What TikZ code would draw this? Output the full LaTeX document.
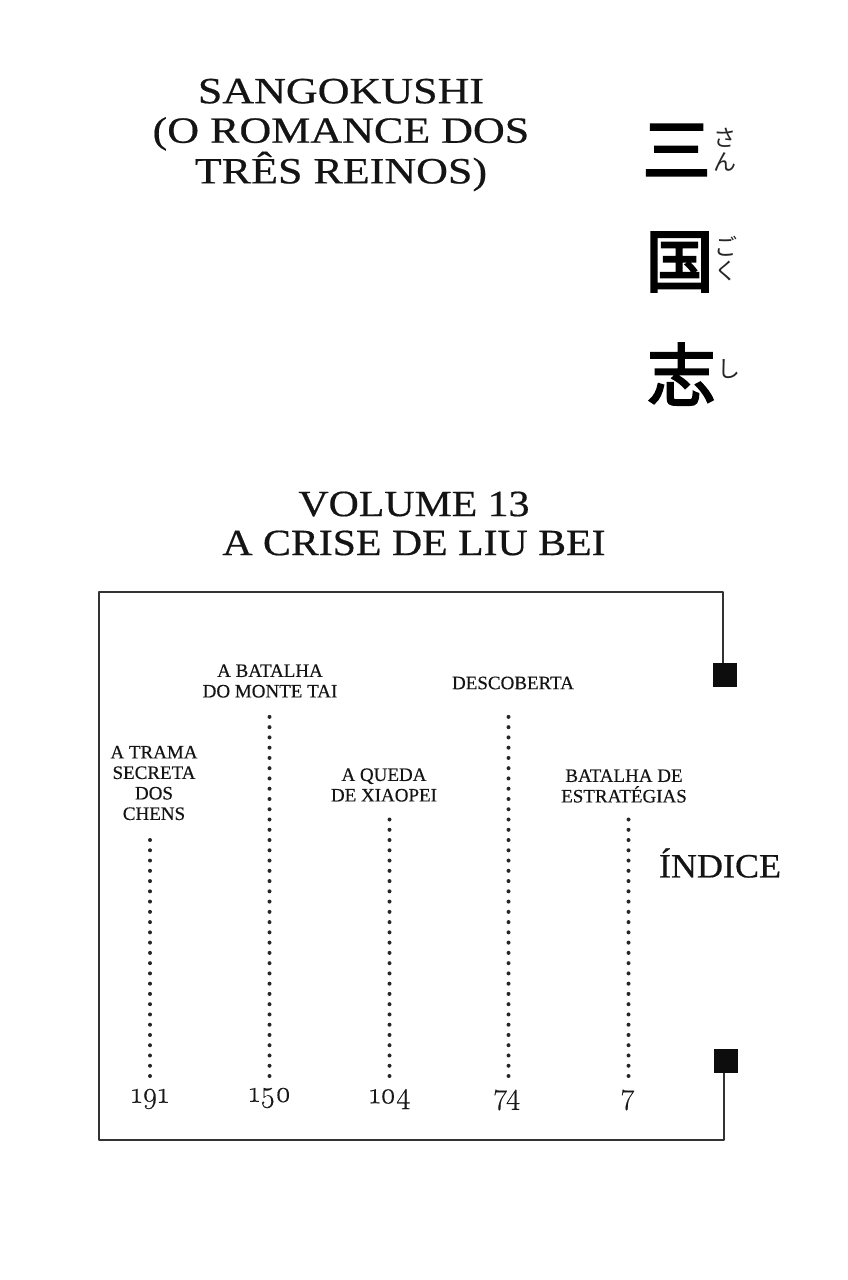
\documentclass[tikz,border=0pt]{standalone}
\usepackage{fontspec}
\setmainfont{Liberation Serif}
\newfontfamily\chapf{Liberation Serif}[FakeBold=0.35]
\newfontfamily\cjk{Noto Sans CJK JP}
\newfontfamily\cjkk{Noto Sans CJK JP}[FakeBold=3.2]
\newfontfamily\wideA{Liberation Serif}[FakeStretch=1.19,FakeBold=0.5]
\newfontfamily\wideB{Liberation Serif}[FakeStretch=1.13,FakeBold=0.5]
\newfontfamily\wideC{Liberation Serif}[FakeStretch=1.06,FakeBold=0.5]
\newfontfamily\onum{Latin Modern Roman}[Numbers=OldStyle,FakeBold=0.4]
\begin{document}
\begin{tikzpicture}[x=1pt,y=-1pt,
  titletext/.style={font=\wideA\fontsize{37}{39.5}\selectfont,inner sep=0pt,align=center,text=black!92},
  voltext/.style={font=\wideB\fontsize{37}{39}\selectfont,inner sep=0pt,align=center,text=black!92},
  chaptext/.style={font=\chapf\fontsize{19}{20.5}\selectfont,inner sep=0pt,align=center,text=black!92},
  numtext/.style={font=\onum\fontsize{30}{30}\selectfont,inner sep=0pt,text=black!90},
  kanji/.style={font=\cjkk\fontsize{68}{68}\selectfont,inner sep=0pt},
  kana/.style={font=\cjk\fontsize{23}{24}\selectfont,inner sep=0pt,align=center,text=black!85},
  sq/.style={fill=black!95,draw=none,minimum width=24pt,minimum height=24pt,inner sep=0pt},
  frameline/.style={line width=2pt,draw=black!80,line join=round},
  dots/.style={line width=4pt,line cap=round,dash pattern=on 0pt off 10.26pt,draw=black!85}]
\useasboundingbox (0,0) rectangle (848,1280);
\fill[white] (0,0) rectangle (848,1280);
\node[titletext] (title) at (341,135) {SANGOKUSHI\\(O ROMANCE DOS\\TRÊS REINOS)};
\node[voltext] (vol) at (414,523.5) {VOLUME 13\\A CRISE DE LIU BEI};
\node[kanji] (k1) at (676.5,150) {三};
\node[kanji] (k2) at (679.5,262) {国};
\node[kanji] (k3) at (681.5,374) {志};
\node[kana] (r1) at (725,150) {さ\\ん};
\node[kana] (r2) at (726,259) {ご\\く};
\node[kana] (r3) at (729,369) {し};
\node[sq] (top) at (725,675) {};
\node[sq] (bot) at (726,1061) {};
\coordinate (c1) at (723,592);
\coordinate (c2) at (99,592);
\coordinate (c3) at (99,1140);
\coordinate (c4) at (724,1140);
\draw[frameline] (top.north -| c1) -- (c1) -- (c2) -- (c3) -- (c4) -- (bot.south -| c4);
\node[chaptext] (a) at (154,783) {A TRAMA\\SECRETA\\DOS\\CHENS};
\node[chaptext] (b) at (270,681) {A BATALHA\\DO MONTE TAI};
\node[chaptext] (c) at (384,785) {A QUEDA\\DE XIAOPEI};
\node[chaptext] (d) at (513,683) {DESCOBERTA};
\node[chaptext] (e) at (624,786) {BATALHA DE\\ESTRATÉGIAS};
\node[inner sep=0pt,font=\wideC\fontsize{34}{34}\selectfont,text=black!92] (idx) at (720,863) {ÍNDICE};
\node[numtext] (na) at (150,1099) {191};
\node[numtext] (nb) at (270,1098) {150};
\node[numtext] (nc) at (390,1099) {104};
\node[numtext] (nd) at (507,1100) {74};
\node[numtext] (ne) at (628,1100) {7};
\coordinate (sa) at (150,836);
\coordinate (sb) at (269.5,716);
\coordinate (sc) at (389.5,818);
\coordinate (sd) at (508.5,715);
\coordinate (se) at (628.5,818);
\coordinate (ea) at (150,1076);
\coordinate (eb) at (269.5,1076);
\coordinate (ec) at (389.5,1076);
\coordinate (ed) at (508.5,1076);
\coordinate (ee) at (628.5,1076);
\draw[dots] (ea) -- (sa);
\draw[dots] (eb) -- (sb);
\draw[dots] (ec) -- (sc);
\draw[dots] (ed) -- (sd);
\draw[dots] (ee) -- (se);
\end{tikzpicture}
\end{document}
